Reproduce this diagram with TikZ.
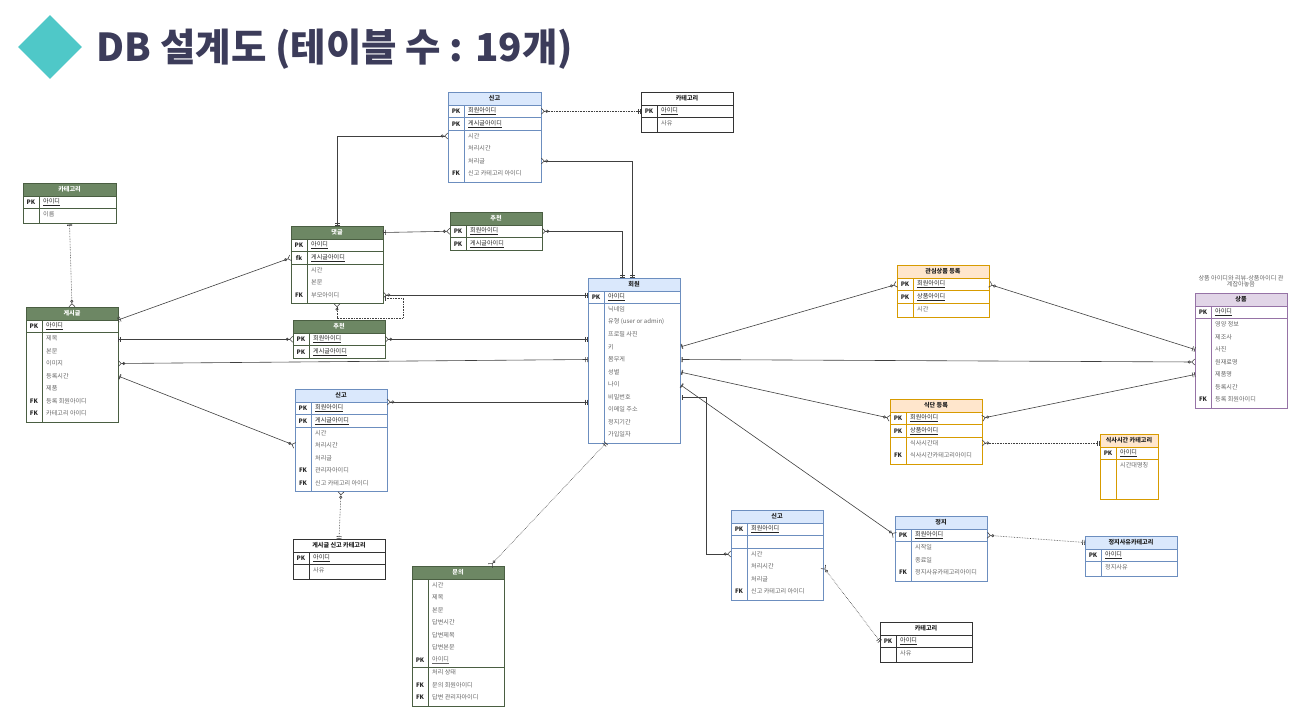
\documentclass[tikz,border=0pt]{standalone}
\usepackage{fontspec}
\setmainfont{Noto Sans CJK KR}
\usetikzlibrary{arrows.meta, positioning, shapes.geometric}

\definecolor{gfill}{HTML}{6D8764}\definecolor{gline}{HTML}{4A5E42}\definecolor{gtext}{HTML}{FFFFFF}
\definecolor{bfill}{HTML}{DAE8FC}\definecolor{bline}{HTML}{6C8EBF}\definecolor{btext}{HTML}{222222}
\definecolor{ofill}{HTML}{FFE6CC}\definecolor{oline}{HTML}{D79B00}\definecolor{otext}{HTML}{222222}
\definecolor{pfill}{HTML}{E1D5E7}\definecolor{pline}{HTML}{9673A6}\definecolor{ptext}{HTML}{222222}
\definecolor{wfill}{HTML}{FFFFFF}\definecolor{wline}{HTML}{333333}\definecolor{wtext}{HTML}{222222}
\definecolor{titlecol}{HTML}{3C3C5A}
\definecolor{diamondcol}{HTML}{4FC8C8}

\newcommand{\tbfont}{\fontsize{6.1}{6.6}\selectfont}

\tikzset{
  hdr/.style={rectangle, draw, line width=0.6pt, minimum height=13, inner sep=0pt, outer sep=0pt, font=\tbfont\bfseries},
  rowbox/.style={rectangle, line width=0.6pt, minimum height=12.5, inner sep=0pt, outer sep=0pt},
  keytxt/.style={inner sep=0pt, font=\tbfont\bfseries, text=black!85},
  pktxt/.style={anchor=west, inner sep=0pt, font=\tbfont, text=black!85},
  rowtxt/.style={anchor=west, inner sep=0pt, font=\tbfont, text=black!60},
  tblbox/.style={rectangle, line width=0.6pt, inner sep=0pt, outer sep=0pt},
  conn/.style={draw=black!75, line width=0.6pt},
  dots/.style={conn, densely dotted},
  om/.style={{Bar[width=5pt,sep=1.5pt]Bar[width=5pt]}-{Circle[open,length=3pt,sep=0.5pt]Straight Barb[reversed,length=3pt,width=6pt]}},
  mo/.style={{Straight Barb[reversed,length=3pt,width=6pt]Circle[open,length=3pt,sep=0.5pt]}-{Bar[width=5pt,sep=1.5pt]Bar[width=5pt]}}
}

% #1 name, #2 x, #3 y, #4 width, #5 colour, #6 title, #7 key rows, #8 other rows
\newcommand{\ertable}[8]{%
  \node[hdr, fill=#5fill, draw=#5line, text=#5text, minimum width=#4, anchor=north west] (#1-h) at (#2,#3) {#6};
  \xdef\tbnpk{0}\xdef\tbnrow{0}%
  \foreach \k/\t [count=\i] in {#7} {
    \node[rowbox, draw=#5line, minimum width=#4] (#1-p\i) at (#2+#4/2, #3+6.75+\i*12.5) {};
    \node[keytxt] at (#2+8, #3+6.75+\i*12.5) {\k};
    \node[pktxt] at (#2+20, #3+6.75+\i*12.5) {\underline{\t}};
    \xdef\tbnpk{\i}
  }%
  \foreach \k/\t [count=\i] in {#8} {
    \node[rowbox, minimum width=#4] (#1-r\i) at (#2+#4/2, #3+6.5+\tbnpk*12.5+\i*12.5) {};
    \node[keytxt] at (#2+8, #3+6.5+\tbnpk*12.5+\i*12.5) {\k};
    \node[rowtxt] at (#2+20, #3+6.5+\tbnpk*12.5+\i*12.5) {\t};
    \xdef\tbnrow{\i}
  }%
  \pgfmathsetmacro\tbh{13+\tbnpk*12.5+\tbnrow*12.5+(\tbnrow>0)*2}%
  \node[tblbox, draw=#5line, minimum width=#4, minimum height=\tbh, anchor=north west] (#1) at (#2,#3) {};
  \draw[#5line, line width=1pt] (#2, #3+13+\tbnpk*12.5) -- ++(#4,0);
  \draw[#5line, line width=0.6pt] (#2+16, #3+13) -- (#2+16, #3+\tbh);
}

\begin{document}
\begin{tikzpicture}[x=1pt, y=-1pt]
\fill[white] (0,0) rectangle (1316,725);
\useasboundingbox (0,0) rectangle (1316,725);

\node[diamond, fill=diamondcol, minimum width=64, minimum height=64, inner sep=0pt] (logo) at (50,47) {};
\node[anchor=west, font=\fontsize{38.5}{42}\selectfont\bfseries, text=titlecol] (title) at (93,49) {DB 설계도 (테이블 수 : 19개)};

\ertable{singoTop}{448}{92}{93}{b}{신고}{PK/회원아이디, PK/게시글아이디}{/시간, /처리시간, /처리글, FK/신고 카테고리 아이디}
\ertable{catTop}{641}{92}{92}{w}{카테고리}{PK/아이디}{/사유}
\ertable{catLeft}{23}{183}{93}{g}{카테고리}{PK/아이디}{/이름}
\ertable{comment}{291}{226}{92}{g}{댓글}{PK/아이디, fk/게시글아이디}{/시간, /본문, FK/부모아이디}
\ertable{likeTop}{450}{212}{92}{g}{추천}{PK/회원아이디, PK/게시글아이디}{}
\ertable{likeLow}{293}{320}{92}{g}{추천}{PK/회원아이디, PK/게시글아이디}{}
\ertable{post}{26}{307}{92}{g}{게시글}{PK/아이디}{/제목, /본문, /이미지, /등록시간, /제품, FK/등록 회원아이디, FK/카테고리 아이디}
\ertable{singoLow}{295}{389}{92}{b}{신고}{PK/회원아이디, PK/게시글아이디}{/시간, /처리시간, /처리글, FK/관리자아이디, FK/신고 카테고리 아이디}
\ertable{postCat}{293}{539}{92}{w}{게시글 신고 카테고리}{PK/아이디}{/사유}
\ertable{inquiry}{412}{566}{92}{g}{문의}{}{/시간, /제목, /본문, /답변시간, /답변제목, /답변본문, PK/\underline{아이디}, /처리 상태, FK/문의 회원아이디, FK/답변 관리자아이디}
\draw[gline, line width=1pt] (inquiry.west |- 0,667) -- (inquiry.east |- 0,667);
\ertable{member}{588}{278}{92}{b}{회원}{PK/아이디}{/닉네임, /유형 (user or  admin), /프로필 사진, /키, /몸무게, /성별, /나이, /비밀번호, /이메일 주소, /정지기간, /가입일자}
\ertable{wish}{897}{265}{92}{o}{관심상품 등록}{PK/회원아이디, PK/상품아이디}{/시간}
\ertable{product}{1195}{293}{92}{p}{상품}{PK/아이디}{/영양 정보, /제조사, /사진, /원재료명, /제품명, /등록시간, FK/등록 회원아이디}
\node[font=\tbfont, text=black!60, align=center, above=2pt of product-h] (productNote) {상품 아이디와 리뷰-상품아이디 관\\계잡아놓음};
\ertable{diet}{890}{399}{92}{o}{식단 등록}{PK/회원아이디, PK/상품아이디}{/식사시간대, FK/식사시간카테고리아이디}
\ertable{mealCat}{1100}{434}{58}{o}{식사시간 카테고리}{PK/아이디}{/시간대명칭, /{}, /{}}
\ertable{singoMid}{731}{510}{92}{b}{신고}{PK/회원아이디, /{}}{/시간, /처리시간, /처리글, FK/신고 카테고리 아이디}
\ertable{ban}{895}{516}{92}{b}{정지}{PK/회원아이디}{/시작일, /종료일, FK/정지사유카테고리아이디}
\ertable{banCat}{1085}{536}{92}{b}{정지사유카테고리}{PK/아이디}{/정지사유}
\ertable{catBot}{880}{622}{92}{w}{카테고리}{PK/아이디}{/사유}

\draw[dots, mo] (singoTop-p1.east) -- (catTop-p1.west);
\draw[conn, mo] (singoTop-r1.west) -| (comment.north);
\draw[conn, mo] (singoTop-r3.east) -| ([xshift=-2]member.north);
\draw[conn, mo] (likeTop-p1.west) -- (comment-h.east);
\draw[conn, mo] (likeTop-p1.east) -| ([xshift=-12]member.north);
\draw[conn, mo] (comment-p2.west) -- (post-h.south east);
\draw[conn, mo] (comment-r3.east) -- (comment-r3.east -| member.west);
\draw[dots, om] ([yshift=-3]comment-r3.east) -- ++(20,0) -- ++(0,20) -| (comment.south);
\draw[dots, om] (catLeft.south) -- (post.north);
\draw[conn, mo] (likeLow-p1.west) -- (likeLow-p1.west -| post.east);
\draw[conn, mo] (likeLow-p1.east) -- (likeLow-p1.east -| member.west);
\draw[conn, mo] (post-r3.east) -- (member-r5.west);
\draw[conn, om] (post-r4.east) -- (singoLow-r2.west);
\draw[conn, mo] (singoLow-p1.north east) -- (singoLow-p1.north east -| member.west);
\draw[dots, mo] (singoLow.south) -- (postCat.north);
\draw[dots, mo] ([xshift=-14]inquiry.north east) -- ([xshift=-28]member.south);
\draw[conn, om] (member-r4.east) -- (wish-p1.west);
\draw[conn, om] (member-r5.east) -- (product-r4.west);
\draw[conn, mo] (wish-p1.east) -- (product-r3.west);
\draw[conn, om] (member-r6.east) -- (diet-p1.west);
\draw[conn, mo] (diet-p1.east) -- (product-r5.west);
\draw[dots, mo] (diet-r1.east) -- (diet-r1.east -| mealCat.west);
\draw[conn, om] (member-r7.east) -- (ban-p1.west);
\draw[conn, om] (member-r8.east) -- ++(26,0) |- (singoMid-r1.west);
\draw[dots, mo] (ban-p1.east) -- (banCat-h.west);
\draw[dots, mo] (singoMid-r2.east) -- (catBot-p1.west);
\end{tikzpicture}
\end{document}
